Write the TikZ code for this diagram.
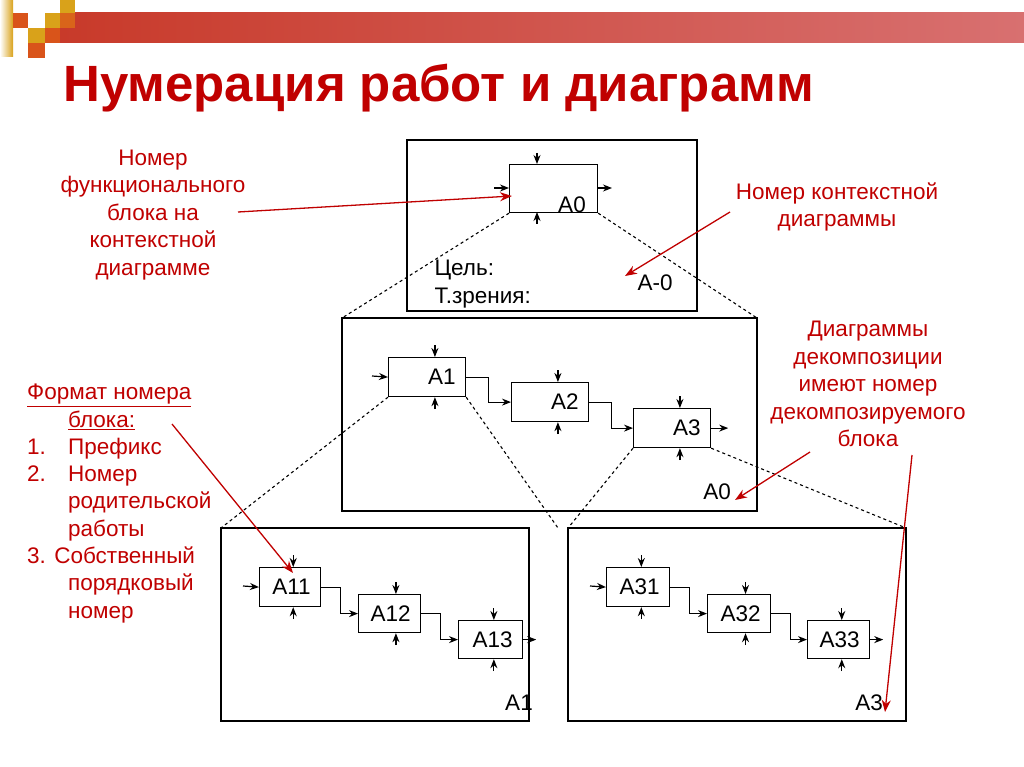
\documentclass[tikz,border=0pt]{standalone}
\usepackage{fontspec}
\setmainfont{Liberation Sans}
\usetikzlibrary{arrows.meta,calc}
\definecolor{tred}{HTML}{C00000}
\definecolor{bar1}{HTML}{C83A2A}
\definecolor{bar2}{HTML}{D87070}
\definecolor{gold}{HTML}{D9A21A}
\definecolor{orng}{HTML}{D9541A}
\tikzset{
 blk/.style={draw, line width=1.2pt, anchor=north west, inner sep=0pt},
 frame/.style={draw, line width=1.2pt},
 sarr/.style={line width=1.2pt, -{Stealth[length=9pt,width=7pt]}},
 dsh/.style={dashed, line width=1.1pt},
 rarr/.style={tred, line width=1.3pt, -{Stealth[length=12pt,width=9pt]}},
 rtxt/.style={tred, font=\fontsize{22.5}{27.5}\selectfont, align=center},
 lbl/.style={font=\fontsize{22.5}{22.5}\selectfont}
}
\newcommand{\fblk}[7]{%
 \node[blk, minimum width=#4pt, minimum height=#5pt] (#1) at (#2,#3) {};
 \node[lbl, anchor=east] at ($(#1.east)+(-7,0)$) {#6};
 \draw[sarr] ($(#1.north west)!#7!(#1.north east)+(0,-12)$) -- ($(#1.north west)!#7!(#1.north east)$);
 \draw[sarr] ($(#1.south west)!#7!(#1.south east)+(0,12)$) -- ($(#1.south west)!#7!(#1.south east)$);
}
\begin{document}
\begin{tikzpicture}[x=1pt,y=-1pt]
\useasboundingbox (0,0) rectangle (1024,767);
\fill[white] (0,0) rectangle (1024,767);
% decoration
\shade[left color=bar1, right color=bar2] (60,13) rectangle (1024,43);
\shade[top color=white, bottom color=gold, shading angle=90] (0,0) rectangle (13,57);
\fill[orng] (13,13) rectangle (28,28);
\fill[gold] (45,13) rectangle (60,28);
\fill[gold] (60,0) rectangle (75,15);
\fill[orng!80!gold] (60,13) rectangle (75,28);
\fill[gold] (28,28) rectangle (45,43);
\fill[orng] (45,28) rectangle (60,43);
\fill[orng] (28,43) rectangle (45,58);
% title
\node[tred, anchor=west, font=\fontsize{51}{51}\selectfont\bfseries, inner sep=0pt] (title) at (63,88) {Нумерация работ и диаграмм};
% frames
\draw[frame] (407,140) rectangle (697,311);
\draw[frame] (342,318) rectangle (757,511);
\draw[frame] (221,528) rectangle (529,721);
\draw[frame] (568,528) rectangle (906,721);
% top diagram
\node[blk, minimum width=88pt, minimum height=48pt] (A0) at (509,164) {};
\node[lbl] (A0l) at (572,205) {A0};
\draw[sarr] (537,153) -- (537,164);
\draw[sarr] (537,224) -- (537,212);
\draw[sarr] (494,188) -- (509,188);
\draw[sarr] (597,188) -- (612,188);
\node[lbl, anchor=west] (goal) at (431,270) {Цель:};
\node[lbl, anchor=west] (view) at (431,298) {Т.зрения:};
\node[lbl] (am0) at (655,283) {A-0};
% middle diagram
\fblk{A1}{388}{357}{77}{39}{A1}{0.6}
\fblk{A2}{511}{382}{77}{39}{A2}{0.6}
\fblk{A3}{633}{408}{77}{39}{A3}{0.6}
\draw[sarr] (372,376) -- (A1.west);
\draw[sarr] (A1.east) -- ++(22,0) |- (A2.west);
\draw[sarr] (A2.east) -- ++(22,0) |- (A3.west);
\draw[sarr] (A3.east) -- ++(17,0);
\node[lbl] (m0) at (717,492) {A0};
% bottom left
\fblk{A11}{259}{567}{61}{39}{A11}{0.55}
\fblk{A12}{358}{594}{62}{38}{A12}{0.6}
\fblk{A13}{458}{620}{64}{38}{A13}{0.55}
\draw[sarr] (243,586) -- (A11.west);
\draw[sarr] (A11.east) -- ++(19,0) |- (A12.west);
\draw[sarr] (A12.east) -- ++(19,0) |- (A13.west);
\draw[sarr] (A13.east) -- ++(13,0);
\node[lbl] (b1) at (519,703) {A1};
% bottom right
\fblk{A31}{606}{567}{63}{39}{A31}{0.55}
\fblk{A32}{707}{594}{63}{38}{A32}{0.6}
\fblk{A33}{807}{620}{62}{38}{A33}{0.55}
\draw[sarr] (590,586) -- (A31.west);
\draw[sarr] (A31.east) -- ++(19,0) |- (A32.west);
\draw[sarr] (A32.east) -- ++(19,0) |- (A33.west);
\draw[sarr] (A33.east) -- ++(13,0);
\node[lbl] (b3) at (869,703) {A3};
% dashed
\coordinate (mtl) at (342,318); \coordinate (mtr) at (757,318);
\coordinate (ltl) at (221,528); \coordinate (ltr) at (558,528);
\coordinate (rtl) at (568,528); \coordinate (rtr) at (906,528);
\draw[dsh] (A0.south west) -- (mtl);
\draw[dsh] (A0.south east) -- (mtr);
\draw[dsh] (A1.south west) -- (ltl);
\draw[dsh] (A1.south east) -- (ltr);
\draw[dsh] (A3.south west) -- (rtl);
\draw[dsh] (A3.south east) -- (rtr);
% annotations
\node[rtxt] (n1) at (153,215) {Номер\\функционального\\блока на\\контекстной\\диаграмме};
\draw[rarr] (238,212) -- (512,196);
\node[rtxt] (n2) at (837,207) {Номер контекстной\\диаграммы};
\draw[rarr] (730,212) -- (625,276);
\node[rtxt] (n3) at (868,384) {Диаграммы\\декомпозиции\\имеют номер\\декомпозируемого\\блока};
\draw[rarr] (810,452) -- (735,500);
\draw[rarr] (912,455) -- (885,712);
\node[tred, anchor=north west, font=\fontsize{22.5}{27.3}\selectfont, align=left, inner sep=0pt] (n4) at (27,384)
 {\underline{Формат номера}\\
 \hspace*{41pt}\underline{блока:}\\
 \makebox[41pt][l]{1.}Префикс\\
 \makebox[41pt][l]{2.}Номер\\
 \hspace*{41pt}родительской\\
 \hspace*{41pt}работы\\
 3. Собственный\\
 \hspace*{41pt}порядковый\\
 \hspace*{41pt}номер};
\draw[rarr] (172,424) -- (293,573);
\end{tikzpicture}
\end{document}
